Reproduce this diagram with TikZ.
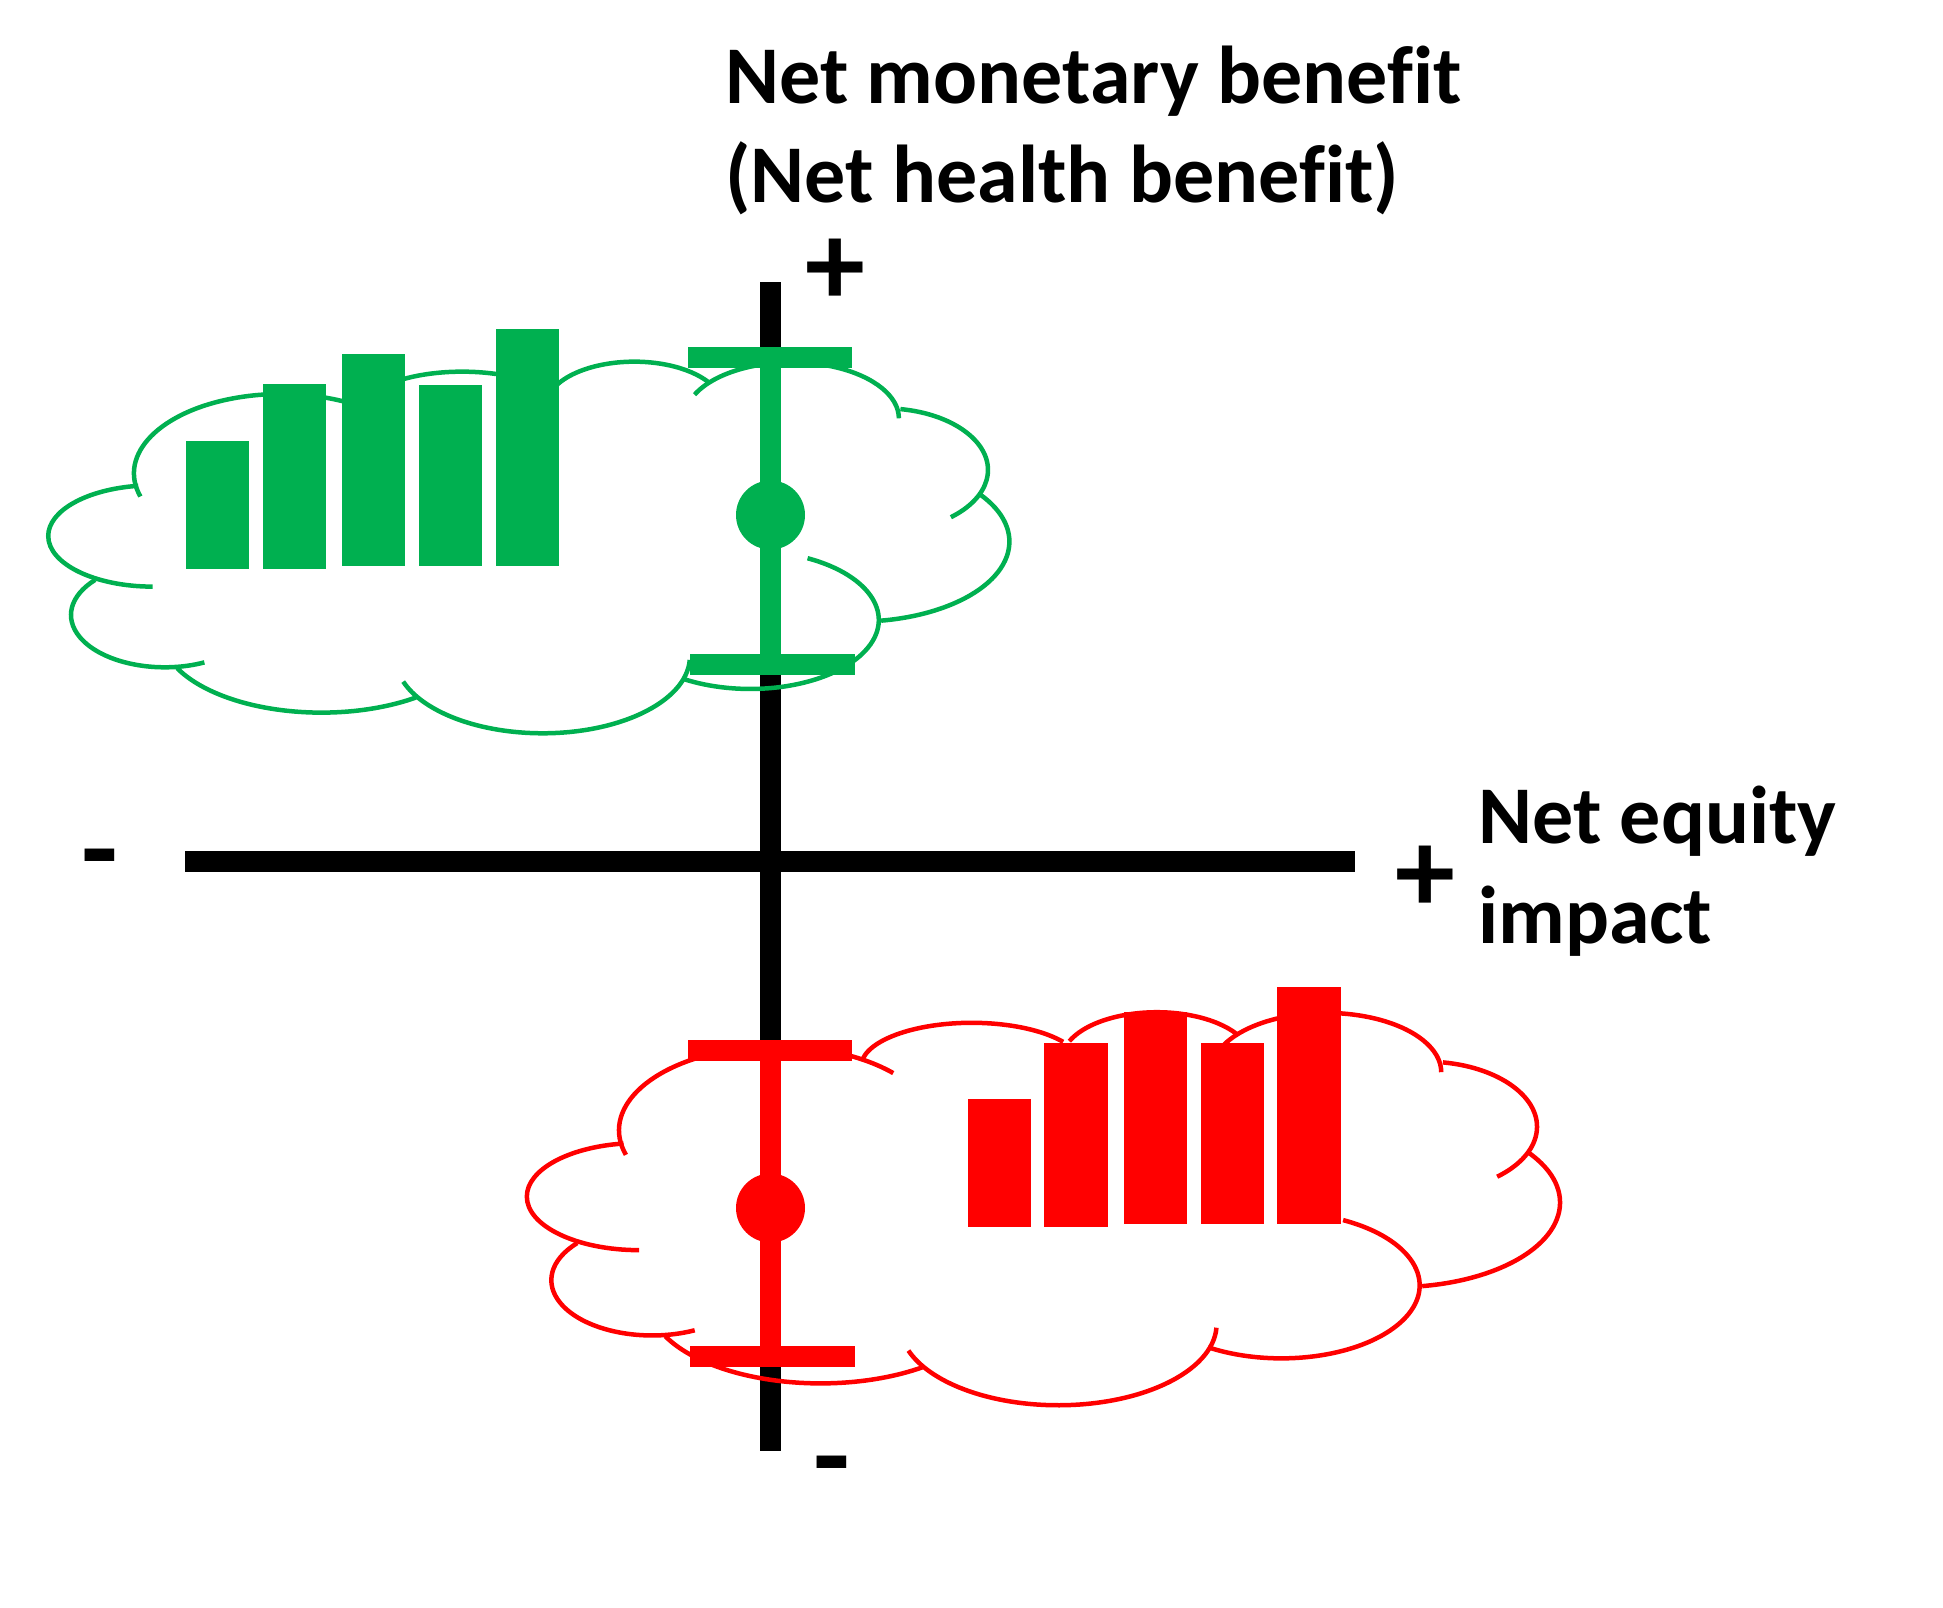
\documentclass[tikz,border=0pt]{standalone}
\usepackage{fontspec}
\setmainfont[Ligatures=NoCommon]{Carlito}
\definecolor{verde}{HTML}{00B050}
\definecolor{rosu}{HTML}{FF0000}
% Outline of the cloud: centre, radii and angles of each lobe.
\newcommand{\cloudlobes}{
    \foreach \cx/\cy/\rx/\ry/\sa/\ea in {
             420/ 520/220/238/163/317,
             690/ 340/154/125/190/325.5,
             947/ 320/132/135/203/327,
            1182/ 355/160/168/205/360,
            1320/ 510/155/185/279/410,
            1280/ 725/227/240/-36.5/81,
            1120/ 960/192/207/-63.5/122,
             810/1070/220/230/2.5/161,
             480/1000/240/238/54/154,
             246/ 945/140/157/65/222,
             228/ 708/156/152/90/262} {
        \draw[lobe] ({\cx+\rx*cos(\sa)},{\cy+\ry*sin(\sa)}) arc[start angle=\sa, end angle=\ea, x radius=\rx, y radius=\ry];
    }
}

\begin{document}
\begin{tikzpicture}[x=1pt, y=-1pt]
        \tikzstyle{axis}  = [line width=21pt, black]
        \tikzstyle{whisk} = [line width=21pt]
        \tikzstyle{lobe}  = [line width=4.5pt]
        \tikzstyle{sign}  = [inner sep=0pt, anchor=center, font=\fontsize{120}{120}\selectfont\bfseries]
        \tikzstyle{title} = [inner sep=0pt, anchor=base west, font=\fontsize{82}{99}\selectfont\bfseries]
        \useasboundingbox (0,0) rectangle (1943,1608);

        % Axes.
        \coordinate (ytop) at (770.5,282);
        \coordinate (ybot) at (770.5,1451);
        \coordinate (xleft) at (185,861);
        \coordinate (xright) at (1355,861);
        \draw[axis] (ytop) -- (ybot);
        \draw[axis] (xleft) -- (xright);

        % Clouds.
        \begin{scope}[verde, shift={(0,300)}, xscale=0.6698, yscale=0.3333]
            \cloudlobes
        \end{scope}
        \begin{scope}[rosu, shift={(475,947)}, xscale=0.72, yscale=0.3525]
            \cloudlobes
        \end{scope}

        % Bars.
        \foreach \xa/\xb/\ya/\yb/\col in {
                186/249/441/569/verde,
                263/326/384/569/verde,
                342/405/354/566/verde,
                419/482/385/566/verde,
                496/559/329/566/verde,
                968/1031/1099/1227/rosu,
                1044/1108/1043/1227/rosu,
                1124/1187/1012/1224/rosu,
                1201/1264/1043/1224/rosu,
                1277/1341/987/1224/rosu} {
            \fill[\col] (\xa,\ya) rectangle (\xb,\yb);
        }

        % Whiskers.
        \foreach \cod/\col/\ya/\ym/\yb in {g/verde/357/515/664, r/rosu/1050/1208/1356} {
            \coordinate (\cod top) at (770.5,\ya);
            \coordinate (\cod bot) at (770.5,\yb);
            \draw[whisk, \col] (\cod top) -- (\cod bot);
            \draw[whisk, \col] (688,\ya) -- (852,\ya);
            \draw[whisk, \col] (690,\yb) -- (855,\yb);
            \node[circle, fill=\col, inner sep=0pt, minimum size=69pt] (\cod dot) at (770.5,\ym) {};
        }

        % Labels.
        \node[title] (nmb) at (725,104) {Net monetary benefit};
        \node[title] (nhb) at (725,203) {(Net health benefit)};
        \node[title] (nei) at (1478,843) {Net equity};
        \node[title] (imp) at (1478,943) {impact};
        \node[sign] (ypl) at (835,272) {+};
        \node[sign] (xpl) at (1425,879) {+};
        \node[sign] (ymi) at (832,1476) {-};
        \node[sign] (xmi) at (100,869) {-};
    \end{tikzpicture}
\end{document}
